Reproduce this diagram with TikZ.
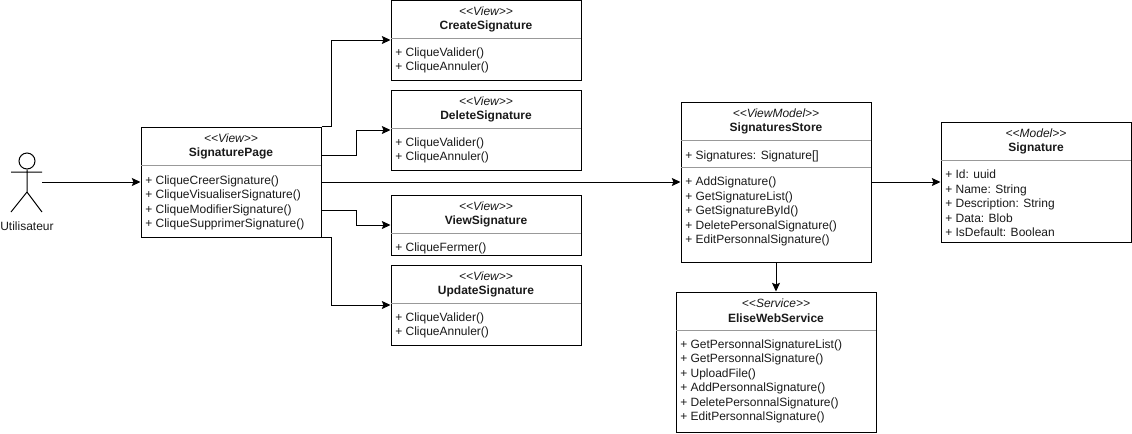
\documentclass[tikz,border=0pt]{standalone}
\usepackage{fontspec}
\setmainfont{Liberation Sans}
\usetikzlibrary{arrows.meta}
\definecolor{sepgray}{HTML}{999999}
\definecolor{textgray}{HTML}{1A1A1A}
\tikzset{
  classbox/.style 2 args={draw,line width=.75pt,inner sep=0pt,minimum width=#1*.75pt,minimum height=#2*.75pt},
  stereotype/.style={font=\fontsize{9}{10}\selectfont\itshape,text=textgray,inner sep=0pt},
  classname/.style={font=\fontsize{9}{10}\selectfont\bfseries,text=textgray,inner sep=0pt},
  members/.style={font=\fontsize{9}{10.8}\selectfont,text=textgray,align=left,anchor=north west,inner sep=0pt},
  sepline/.style={draw=sepgray,line width=.75pt},
  link/.style={->,line width=.75pt}
}

\begin{document}
\begin{tikzpicture}[>={Stealth[length=6.5pt,width=6pt,inset=1.2pt]},x=.75pt,y=-.75pt]
    \useasboundingbox[fill=white] (0,0) rectangle (1132,433);
    % actor
    \node[draw,circle,line width=.75pt,inner sep=0pt,minimum size=12pt] (head) at (27,161) {};
    \coordinate (hip) at (27,192);
    \coordinate (armL) at (11,172);
    \coordinate (armR) at (42,172);
    \coordinate (footL) at (11,212);
    \coordinate (footR) at (42,212);
    \draw[line width=.75pt] (head) -- (hip) (armL) -- (armR) (footL) -- (hip) -- (footR);
    \node[font=\fontsize{9}{10}\selectfont,text=textgray,inner sep=0pt] (user) at (27,226) {Utilisateur};

    % classes
    \node[classbox={180}{110}] (page) at (231,182) {};
    \node[classbox={190}{80}] (create) at (486,40) {};
    \node[classbox={190}{80}] (delete) at (486,130) {};
    \node[classbox={190}{60}] (view) at (486,225) {};
    \node[classbox={190}{80}] (update) at (486,305) {};
    \node[classbox={190}{160}] (store) at (776,182) {};
    \node[classbox={200}{140}] (service) at (776,362) {};
    \node[classbox={190}{120}] (model) at (1036,182) {};

    \node[stereotype] (pageS) at (231,138) {<{}<View>{}>};
    \node[classname] (pageN) at (231,153) {SignaturePage};
    \node[members] (pageM) at (145,175.5) {+ CliqueCreerSignature()\\+ CliqueVisualiserSignature()\\+ CliqueModifierSignature()\\+ CliqueSupprimerSignature()};

    \node[stereotype] (createS) at (486,11) {<{}<View>{}>};
    \node[classname] (createN) at (486,26) {CreateSignature};
    \node[members] (createM) at (395,47.5) {+ CliqueValider()\\+ CliqueAnnuler()};

    \node[stereotype] (deleteS) at (486,101) {<{}<View>{}>};
    \node[classname] (deleteN) at (486,116) {DeleteSignature};
    \node[members] (deleteM) at (395,137.5) {+ CliqueValider()\\+ CliqueAnnuler()};

    \node[stereotype] (viewS) at (486,206) {<{}<View>{}>};
    \node[classname] (viewN) at (486,221) {ViewSignature};
    \node[members] (viewM) at (395,242.5) {+ CliqueFermer()};

    \node[stereotype] (updateS) at (486,276) {<{}<View>{}>};
    \node[classname] (updateN) at (486,291) {UpdateSignature};
    \node[members] (updateM) at (395,312.5) {+ CliqueValider()\\+ CliqueAnnuler()};

    \node[stereotype] (storeS) at (776,113) {<{}<ViewModel>{}>};
    \node[classname] (storeN) at (776,128) {SignaturesStore};
    \node[members] (storeF) at (685,150.5) {+ Signatures: Signature[]};
    \node[members] (storeM) at (685,177) {+ AddSignature()\\+ GetSignatureList()\\+ GetSignatureById()\\+ DeletePersonalSignature()\\+ EditPersonnalSignature()};

    \node[stereotype] (serviceS) at (776,303) {<{}<Service>{}>};
    \node[classname] (serviceN) at (776,318) {EliseWebService};
    \node[members] (serviceM) at (680,339.5) {+ GetPersonnalSignatureList()\\+ GetPersonnalSignature()\\+ UploadFile()\\+ AddPersonnalSignature()\\+ DeletePersonnalSignature()\\+ EditPersonnalSignature()};

    \node[stereotype] (modelS) at (1036,133) {<{}<Model>{}>};
    \node[classname] (modelN) at (1036,148) {Signature};
    \node[members] (modelM) at (945,170) {+ Id: uuid\\+ Name: String\\+ Description: String\\+ Data: Blob\\+ IsDefault: Boolean};

    % compartment lines
    \foreach \cls/\dist/\wid in {page/39/180,create/39/190,delete/39/190,view/39/190,update/39/190,store/39/190,store/66/190,service/39/200,model/39/190}
      \draw[sepline] (\cls.north west) ++(0,\dist) -- ++(\wid,0);

    % connectors
    \draw[link] (armR |- page.west) -- (page.west);
    \draw[link] (page.north east) -- ++(10,0) |- (create.west);
    \draw[link] ([yshift=20.25pt]page.east) -- ++(35,0) |- (delete.west);
    \draw[link] (page.east) -- (store.west);
    \draw[link] ([yshift=-21pt]page.east) -- ++(35,0) |- (view.west);
    \draw[link] (page.south east) -- ++(10,0) |- (update.west);
    \draw[link] (store.east) -- (model.west);
    \draw[link] (store.south) -- (service.north);
\end{tikzpicture}
\end{document}
